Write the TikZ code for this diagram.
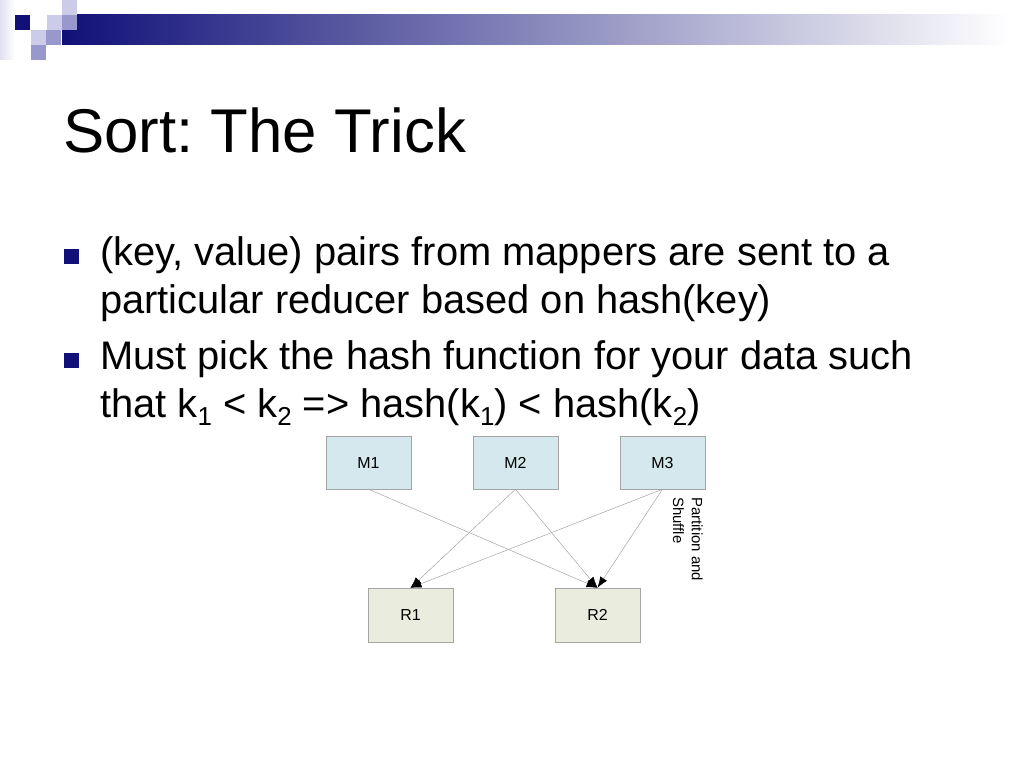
\documentclass[tikz,border=0pt]{standalone}
\usepackage{fontspec}
\setmainfont{Liberation Sans}
\usetikzlibrary{arrows.meta}
\definecolor{navy}{RGB}{16,16,120}
\definecolor{lav}{RGB}{204,204,232}
\definecolor{lavmid}{RGB}{152,152,204}
\definecolor{bargray}{RGB}{160,160,172}
\definecolor{mapfill}{RGB}{212,232,238}
\definecolor{redfill}{RGB}{234,237,222}
\definecolor{boxline}{RGB}{165,165,165}
\newcommand{\subk}[1]{\raisebox{-0.22em}{\fontsize{26}{26}\selectfont #1}}
\frenchspacing

\tikzset{
  mapbox/.style={draw=boxline,fill=mapfill,minimum width=85bp,minimum height=53bp,inner sep=0pt,text height=11bp,text depth=0bp,font=\fontsize{16}{16}\selectfont},
  redbox/.style={mapbox,fill=redfill,minimum height=54bp},
  flow/.style={draw=gray!75,line width=0.45bp,-{Latex[black,length=11bp,width=8bp]}},
  bulletsq/.style={fill=navy,minimum size=15bp,inner sep=0pt},
  bodytext/.style={anchor=base west,inner sep=0pt,font=\fontsize{40}{40}\selectfont}
}

\begin{document}
\begin{tikzpicture}[x=1bp,y=-1bp]
        \useasboundingbox[fill=white] (0,0) rectangle (1024,768);
        % corner squares and bar
        \shade[left color=lav!60,right color=white] (0,0) rectangle (15,60);
        \shade[left color=navy,middle color=bargray,right color=white] (62,15) rectangle (1010,45);
        \fill[navy] (15,15) rectangle (30,30);
        \fill[lav] (47,15) rectangle (62,30);
        \fill[lavmid] (62,15) rectangle (77,30);
        \fill[lav] (62,0) rectangle (77,15);
        \fill[lav] (31,30) rectangle (46,45);
        \fill[lavmid] (46,30) rectangle (61,45);
        \fill[lavmid] (31,45) rectangle (46,60);
        % title
        \node[anchor=base west,inner sep=0pt,font=\fontsize{62}{62}\selectfont] (title) at (63,152) {Sort: The Trick};
        % bullets
        \node[bulletsq] (b1) at (71.5,256.5) {};
        \node[bulletsq] (b2) at (71.5,360.5) {};
        \node[bodytext] (l1) at (100,265) {(key, value) pairs from mappers are sent to a};
        \node[bodytext] (l2) at (100,313) {particular reducer based on hash(key)};
        \node[bodytext] (l3) at (100,369) {Must pick the hash function for your data such};
        \node[bodytext] (l4) at (100,417) {that k\subk{1} < k\subk{2} => hash(k\subk{1}) < hash(k\subk{2})};
        % mappers and reducers
        \node[mapbox] (M1) at (368.5,462.5) {M1};
        \node[mapbox] (M2) at (515.5,462.5) {M2};
        \node[mapbox] (M3) at (662.5,462.5) {M3};
        \node[redbox] (R1) at (410.5,615) {R1};
        \node[redbox] (R2) at (597.5,615) {R2};
        \draw[flow] (M1.south) -- (R2.north);
        \draw[flow] (M2.south) -- (R1.north);
        \draw[flow] (M2.south) -- (R2.north);
        \draw[flow] (M3.south) -- (R1.north);
        \draw[flow] (M3.south) -- (R2.north);
        \node[rotate=-90,anchor=north west,align=left,inner sep=0pt,font=\fontsize{15}{19}\selectfont] (shuffle) at (703,497) {Partition and\\Shuffle};
\end{tikzpicture}
\end{document}
